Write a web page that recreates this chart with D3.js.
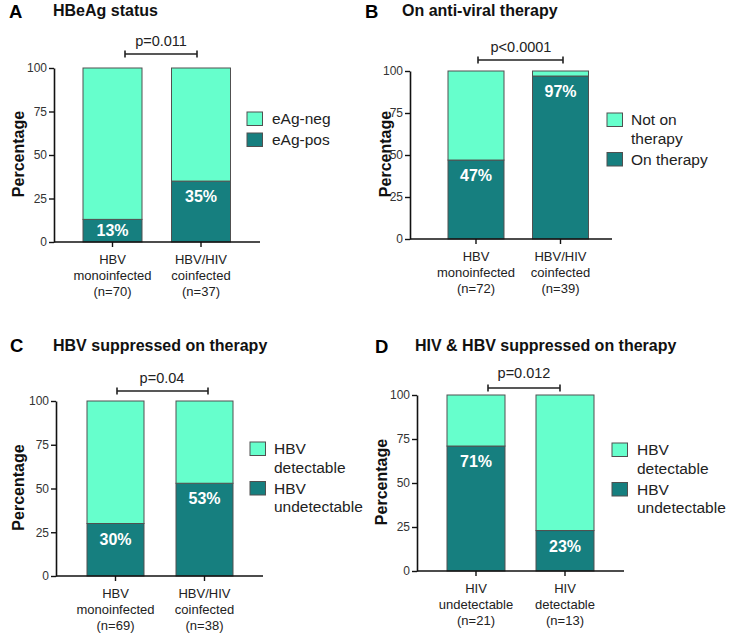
<!DOCTYPE html>
<html><head><meta charset="utf-8">
<script src="https://cdn.jsdelivr.net/npm/d3@7"></script>
<style>
body{margin:0;background:#fff}
svg{display:block}
text{font-family:"Liberation Sans",Arial,Helvetica,sans-serif}
</style>
</head><body>
<svg id="chart" width="729" height="634"></svg>
<script>
// ---------- DATA ----------
const panelLetters = ["A", "B", "C", "D"];
const panelTitles = ["HBeAg status", "On anti-viral therapy", "HBV suppressed on therapy", "HIV & HBV suppressed on therapy"];

const categoriesA = [["HBV", "monoinfected", "(n=70)"], ["HBV/HIV", "coinfected", "(n=37)"]];
const categoriesB = [["HBV", "monoinfected", "(n=72)"], ["HBV/HIV", "coinfected", "(n=39)"]];
const categoriesC = [["HBV", "monoinfected", "(n=69)"], ["HBV/HIV", "coinfected", "(n=38)"]];
const categoriesD = [["HIV", "undetectable", "(n=21)"], ["HIV", "detectable", "(n=13)"]];

const darkA = [13, 35];  const lightA = [87, 65];
const darkB = [47, 97];  const lightB = [53, 3];
const darkC = [30, 53];  const lightC = [70, 47];
const darkD = [71, 23];  const lightD = [29, 77];

const pctLabelsA = ["13%", "35%"];
const pctLabelsB = ["47%", "97%"];
const pctLabelsC = ["30%", "53%"];
const pctLabelsD = ["71%", "23%"];

const pValueLabels = ["p=0.011", "p<0.0001", "p=0.04", "p=0.012"];

const legendLightA = ["eAg-neg"];         const legendDarkA = ["eAg-pos"];
const legendLightB = ["Not on", "therapy"]; const legendDarkB = ["On therapy"];
const legendLightC = ["HBV", "detectable"]; const legendDarkC = ["HBV", "undetectable"];
const legendLightD = ["HBV", "detectable"]; const legendDarkD = ["HBV", "undetectable"];

const yTickValues = [0, 25, 50, 75, 100];
const yAxisTitle = "Percentage";

// ---------- STYLE / LAYOUT ----------
const COLOR_LIGHT = "#66ffcc";
const COLOR_DARK = "#167f7f";
const BAR_STROKE = "#505050";

const panels = [
  {cats: categoriesA, dark: darkA, light: lightA, pct: pctLabelsA, legL: legendLightA, legD: legendDarkA,
   lay: {ox: 54, xEnd: 260, yTop: 68, yBot: 242, c: [112.5, 201], bw: 59, letter: [9, 17.5], title: [53, 16],
         br: [125, 197, 54], pT: [161, 46], leg: [247, 112, 272], yl: 23.5}},
  {cats: categoriesB, dark: darkB, light: lightB, pct: pctLabelsB, legL: legendLightB, legD: legendDarkB,
   lay: {ox: 410, xEnd: 612, yTop: 71, yBot: 239, c: [476, 560.5], bw: 56, letter: [365, 17.5], title: [402, 16],
         br: [478, 563, 60], pT: [521, 52], leg: [607, 113, 631], yl: 391}},
  {cats: categoriesC, dark: darkC, light: lightC, pct: pctLabelsC, legL: legendLightC, legD: legendDarkC,
   lay: {ox: 56, xEnd: 263, yTop: 401, yBot: 576, c: [115.5, 204.5], bw: 57, letter: [10, 352], title: [53, 351],
         br: [117, 208, 391], pT: [162, 383], leg: [250, 442, 274], yl: 24}},
  {cats: categoriesD, dark: darkD, light: lightD, pct: pctLabelsD, legL: legendLightD, legD: legendDarkD,
   lay: {ox: 417, xEnd: 624, yTop: 395, yBot: 571, c: [476, 565], bw: 58, letter: [375, 353], title: [415, 351],
         br: [488, 560, 388], pT: [524, 378], leg: [612, 443, 637], yl: 387}}
];

const svg = d3.select("#chart");
svg.append("rect").attr("width", 729).attr("height", 634).attr("fill", "#fff");

panels.forEach((P, i) => {
  const L = P.lay;
  const g = svg.append("g");
  const step = L.c[1] - L.c[0];
  const pad = 1 - L.bw / step;
  const x = d3.scaleBand().domain(P.cats.map((d, j) => j))
    .range([L.c[0] - step / 2, L.c[1] + step / 2])
    .paddingInner(pad).paddingOuter(pad / 2);
  const y = d3.scaleLinear().domain([0, 100]).range([L.yBot, L.yTop]);

  const rows = P.cats.map((c, j) => ({idx: j, dark: P.dark[j], light: P.light[j]}));
  const series = d3.stack().keys(["dark", "light"])(rows);

  // bars
  series.forEach(s => {
    g.selectAll(null).data(s).join("rect")
      .attr("x", d => x(d.data.idx))
      .attr("width", x.bandwidth())
      .attr("y", d => y(d[1]))
      .attr("height", d => y(d[0]) - y(d[1]))
      .attr("fill", s.key === "dark" ? COLOR_DARK : COLOR_LIGHT)
      .attr("stroke", BAR_STROKE)
      .attr("stroke-width", 1);
  });

  // percent labels
  g.selectAll(null).data(series[0]).join("text")
    .attr("x", d => x(d.data.idx) + x.bandwidth() / 2)
    .attr("y", d => {
      const top = y(d[1]), bot = y(d[0]);
      return Math.min(top + 21, (top + bot) / 2 + 5.5);
    })
    .attr("text-anchor", "middle")
    .attr("font-size", 16).attr("font-weight", "bold").attr("fill", "#fff")
    .text((d, j) => P.pct[j]);

  // y axis
  const yAx = g.append("g").attr("transform", `translate(${L.ox},0)`)
    .call(d3.axisLeft(y).tickValues(yTickValues).tickSize(5).tickSizeOuter(0).tickPadding(2));
  yAx.select(".domain").attr("stroke", "#111").attr("stroke-width", 1.6);
  yAx.selectAll(".tick line").attr("stroke", "#111").attr("stroke-width", 1.4);
  yAx.selectAll(".tick text").attr("font-size", 12).attr("fill", "#333")
    .attr("font-family", '"Liberation Sans",Arial,sans-serif');

  // x axis
  const xAx = g.append("g").attr("transform", `translate(0,${L.yBot})`)
    .call(d3.axisBottom(x).tickSize(5).tickSizeOuter(0).tickFormat(""));
  xAx.select(".domain").remove();
  xAx.selectAll(".tick line").attr("stroke", "#111").attr("stroke-width", 1.4);
  g.append("line").attr("x1", L.ox).attr("x2", L.xEnd).attr("y1", L.yBot).attr("y2", L.yBot)
    .attr("stroke", "#111").attr("stroke-width", 1.6);

  // x labels
  P.cats.forEach((lines, j) => {
    const t = g.append("text").attr("text-anchor", "middle").attr("font-size", 13).attr("fill", "#222");
    lines.forEach((ln, k) => {
      t.append("tspan").attr("x", x(j) + x.bandwidth() / 2).attr("y", L.yBot + 22 + k * 16).text(ln);
    });
  });

  // y title
  g.append("text")
    .attr("transform", `translate(${L.yl},${(L.yTop + L.yBot) / 2 - 1}) rotate(-90)`)
    .attr("text-anchor", "middle").attr("font-size", 16).attr("font-weight", "bold").attr("fill", "#111")
    .text(yAxisTitle);

  // panel letter & title
  g.append("text").attr("x", L.letter[0]).attr("y", L.letter[1])
    .attr("font-size", 18.5).attr("font-weight", "bold").attr("fill", "#000").text(panelLetters[i]);
  g.append("text").attr("x", L.title[0]).attr("y", L.title[1])
    .attr("font-size", 16).attr("font-weight", "bold").attr("fill", "#111").text(panelTitles[i]);

  // significance bracket
  const [bx1, bx2, by] = L.br;
  const bp = d3.path();
  bp.moveTo(bx1, by); bp.lineTo(bx2, by);
  bp.moveTo(bx1, by - 3.5); bp.lineTo(bx1, by + 3.5);
  bp.moveTo(bx2, by - 3.5); bp.lineTo(bx2, by + 3.5);
  g.append("path").attr("d", bp.toString()).attr("stroke", "#222").attr("stroke-width", 1.6).attr("fill", "none");
  g.append("text").attr("x", L.pT[0]).attr("y", L.pT[1]).attr("text-anchor", "middle")
    .attr("font-size", 14.5).attr("fill", "#222").text(pValueLabels[i]);

  // legend
  const entries = [{lines: P.legL, color: COLOR_LIGHT}, {lines: P.legD, color: COLOR_DARK}];
  let ly = L.leg[1];
  entries.forEach(e => {
    g.append("rect").attr("x", L.leg[0]).attr("y", ly).attr("width", 15.5).attr("height", 13.5)
      .attr("fill", e.color).attr("stroke", BAR_STROKE).attr("stroke-width", 1);
    const t = g.append("text").attr("font-size", 15.5).attr("fill", "#222");
    e.lines.forEach((ln, k) => {
      t.append("tspan").attr("x", L.leg[2]).attr("y", ly + 12 + k * 18.5).text(ln);
    });
    ly += 21 + 18.5 * (e.lines.length - 1);
  });
});
</script>
</body></html>
